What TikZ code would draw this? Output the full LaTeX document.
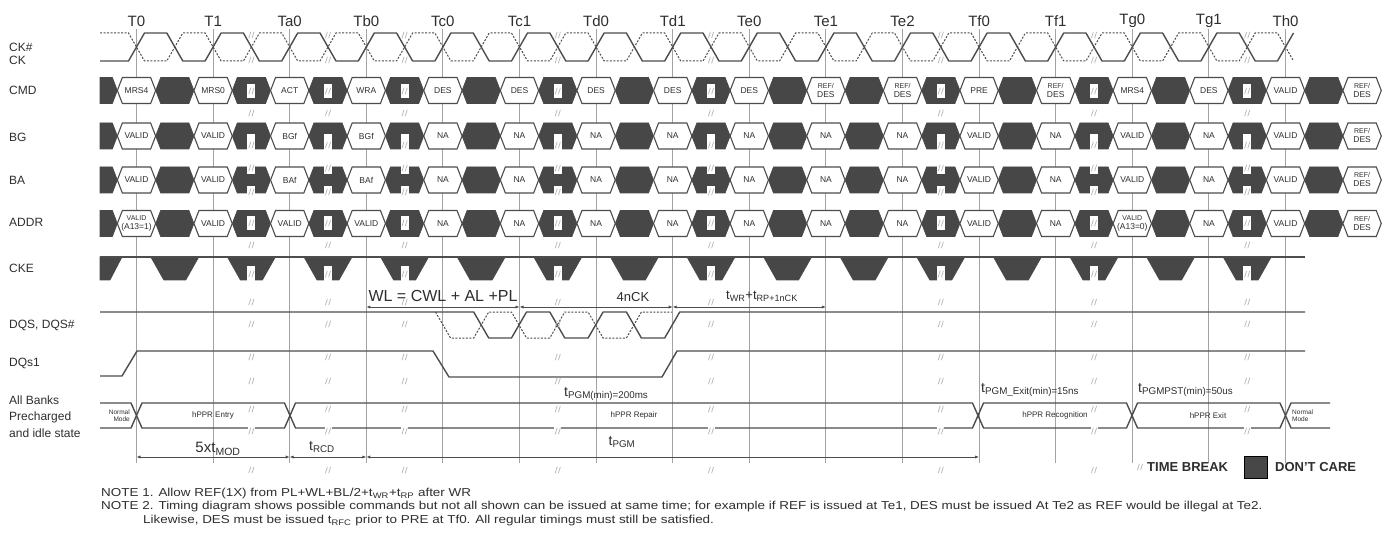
\documentclass[tikz,border=0pt]{standalone}
\usepackage{fontspec}
\setmainfont{Liberation Sans}
\usetikzlibrary{arrows.meta}
\definecolor{dcare}{HTML}{474747}
\definecolor{wline}{HTML}{4D4D4D}
\definecolor{vgrid}{HTML}{A3A3A3}
\definecolor{brkc}{HTML}{B4B4B4}
\definecolor{txt}{HTML}{2E2E2E}
\newcommand\brkmark[2]{\draw[brkc,line width=0.7pt] ({#1-2.6},{#2+3.2}) -- ({#1-0.6},{#2-3.2}) ({#1+0.6},{#2+3.2}) -- ({#1+2.6},{#2-3.2});}
\newcommand\brkmarkw[2]{\fill[white] ({#1-3.5},{#2-4.5}) rectangle ({#1+3.5},{#2+4.5});\brkmark{#1}{#2}}
\newcommand\wcell[3]{\draw[wline,line width=1.1pt,fill=white] ({#1-19.15},#2) -- ({#1-14.15},{#2-13}) -- ({#1+14.15},{#2-13}) -- ({#1+19.15},#2) -- ({#1+14.15},{#2+13}) -- ({#1-14.15},{#2+13}) -- cycle; \node[celltext] at (#1,#2) {#3};}
\newcommand\dcell[2]{\filldraw[dcare,line width=0.6pt] ({#1-19.15},#2) -- ({#1-14.15},{#2-13}) -- ({#1+14.15},{#2-13}) -- ({#1+19.15},#2) -- ({#1+14.15},{#2+13}) -- ({#1-14.15},{#2+13}) -- cycle;}
\newcommand\dstart[1]{\filldraw[dcare,line width=0.6pt] (100,{#1-13}) -- (112.4,{#1-13}) -- (117.35,#1) -- (112.4,{#1+13}) -- (100,{#1+13}) -- cycle;}
\newcommand\rdes{\fontsize{7}{7.5}\selectfont REF/\\DES}
\newcommand\vaone{\fontsize{7}{7.5}\selectfont VALID\\(A13=1)}
\newcommand\vazero{\fontsize{7}{7.5}\selectfont VALID\\(A13=0)}
\newcommand\notewide[1]{\scalebox{1.17}[1]{#1}}
\tikzset{
  celltext/.style={font=\fontsize{8.5}{9}\selectfont, text=txt, inner sep=0pt, align=center},
  rowlabel/.style={font=\fontsize{12}{12}\selectfont, text=txt, anchor=west, inner sep=0pt},
  tlabel/.style={font=\fontsize{15}{15}\selectfont, text=txt, inner sep=0pt},
  sig/.style={wline, line width=1.4pt, line join=round},
  sigdash/.style={wline, line width=1pt, dash pattern=on 2pt off 1.5pt},
  dimline/.style={wline, line width=1pt, {Latex[length=4pt,width=3.2pt]}-{Latex[length=4pt,width=3.2pt]}},
  dimtext/.style={text=txt, inner sep=0pt},
  notetext/.style={text=txt, inner sep=0pt, anchor=west, font=\fontsize{11.5}{11.5}\selectfont},
  smalltext/.style={font=\fontsize{8}{8.5}\selectfont, text=txt, inner sep=0pt, align=center}
}
\begin{document}
\begin{tikzpicture}[x=1pt,y=-1pt]
\useasboundingbox (0,0) rectangle (1393,540);
\fill[white] (0,0) rectangle (1393,540);
% grid lines and T labels
\foreach \i/\lab in {0/T0,1/T1,2/Ta0,3/Tb0,4/Tc0,5/Tc1,6/Td0,7/Td1,8/Te0,9/Te1,10/Te2,11/Tf0,12/Tf1,13/Tg0,14/Tg1,15/Th0}{
  \pgfmathsetmacro\cx{136.5+76.6*\i}
  \draw[vgrid,line width=1pt] (\cx,29) -- (\cx,463);
  \node[tlabel] (t\i) at (\cx,21) {\lab};
}
% row labels
\node[rowlabel] (lckn) at (9,47) {CK\#};
\node[rowlabel] (lck) at (9,60) {CK};
\node[rowlabel] (lcmd) at (9,90) {CMD};
\node[rowlabel] (lbg) at (9,137) {BG};
\node[rowlabel] (lba) at (9,180) {BA};
\node[rowlabel] (laddr) at (9,222) {ADDR};
\node[rowlabel] (lcke) at (9,268) {CKE};
\node[rowlabel] (ldqs) at (9,325) {DQS, DQS\#};
\node[rowlabel] (ldq) at (9,363) {DQs1};
\node[rowlabel] (lab1) at (9,400) {All Banks};
\node[rowlabel] (lab2) at (9,417) {Precharged};
\node[rowlabel] (lab3) at (9,433) {and idle state};
% clock
\draw[sig] (100,61) \foreach \i in {0,...,14}{ -- ({136.5+76.6*\i-8},61) -- ({136.5+76.6*\i+8},33) -- ({136.5+76.6*\i+38.3-8},33) -- ({136.5+76.6*\i+38.3+8},61)} -- (1277.5,61) -- (1293.5,33);
\draw[sigdash] (100,33) \foreach \i in {0,...,14}{ -- ({136.5+76.6*\i-8},33) -- ({136.5+76.6*\i+8},61) -- ({136.5+76.6*\i+38.3-8},61) -- ({136.5+76.6*\i+38.3+8},33)} -- (1277.5,33) -- (1293.5,61);
% bus rows: dark cells
\foreach \y in {90.5,136,180,223.5}{
  \dstart{\y}
  \foreach \j in {0,...,15}{
    \pgfmathsetmacro\mx{136.5+76.6*\j+38.3}
    \dcell{\mx}{\y}
  }
}
% CMD
\foreach \i/\t in {0/MRS4,1/MRS0,2/ACT,3/WRA,4/DES,5/DES,6/DES,7/DES,8/DES,9/\rdes,10/\rdes,11/PRE,12/\rdes,13/MRS4,14/DES,15/VALID,16/\rdes}{
  \pgfmathsetmacro\cx{136.5+76.6*\i}
  \wcell{\cx}{90.5}{\t}
}
% BG
\foreach \i/\t in {0/VALID,1/VALID,2/BGf,3/BGf,4/NA,5/NA,6/NA,7/NA,8/NA,9/NA,10/NA,11/VALID,12/NA,13/VALID,14/NA,15/VALID,16/\rdes}{
  \pgfmathsetmacro\cx{136.5+76.6*\i}
  \wcell{\cx}{136}{\t}
}
% BA
\foreach \i/\t in {0/VALID,1/VALID,2/BAf,3/BAf,4/NA,5/NA,6/NA,7/NA,8/NA,9/NA,10/NA,11/VALID,12/NA,13/VALID,14/NA,15/VALID,16/\rdes}{
  \pgfmathsetmacro\cx{136.5+76.6*\i}
  \wcell{\cx}{180}{\t}
}
% ADDR
\foreach \i/\t in {0/\vaone,1/VALID,2/VALID,3/VALID,4/NA,5/NA,6/NA,7/NA,8/NA,9/NA,10/NA,11/VALID,12/NA,13/\vazero,14/NA,15/VALID,16/\rdes}{
  \pgfmathsetmacro\cx{136.5+76.6*\i}
  \wcell{\cx}{223.5}{\t}
}
% CKE
\filldraw[dcare,line width=0.6pt] (100,257) -- (122,257) -- (110,280) -- (100,280) -- cycle;
\foreach \j in {0,...,14}{
  \pgfmathsetmacro\mx{136.5+76.6*\j+38.3}
  \filldraw[dcare,line width=0.6pt] ({\mx-24},257) -- ({\mx+24},257) -- ({\mx+11},280) -- ({\mx-11},280) -- cycle;
}
\draw[sig] (100,257) -- (1305,257);
% DQS
\draw[sigdash] (435.5,312) -- (450.5,338) -- (473.7,338) -- (488.7,312) -- (511.5,312) -- (526.5,338) -- (549.8,338) -- (564.8,312) -- (588.1,312) -- (603.1,338) -- (626.4,338) -- (641.4,312) -- (672,312);
\draw[sig] (100,312) -- (473.7,312) -- (488.7,338) -- (511.5,338) -- (526.5,312) -- (549.8,312) -- (564.8,338) -- (588.1,338) -- (603.1,312) -- (626.4,312) -- (641.4,338) -- (664.7,338) -- (679.7,312) -- (1305,312);
% DQs1
\draw[sig] (100,376) -- (122,376) -- (137,351) -- (433,351) -- (449,377) -- (662,377) -- (677,351) -- (1305,351);
% hPPR state row
\draw[sig] (100,403) -- (131,403) -- (142,428) -- (284.5,428) -- (295.5,403) -- (972.5,403) -- (983.5,428) -- (1126.5,428) -- (1137.5,403) -- (1280,403) -- (1291,428) -- (1330,428);
\draw[sig] (100,428) -- (131,428) -- (142,403) -- (284.5,403) -- (295.5,428) -- (972.5,428) -- (983.5,403) -- (1126.5,403) -- (1137.5,428) -- (1280,428) -- (1291,403) -- (1330,403);
\node[smalltext,font=\fontsize{6.5}{7.5}\selectfont,align=right,anchor=east] (nm1) at (130,415.5) {Normal\\Mode};
\node[smalltext] (hent) at (213,415.5) {hPPR Entry};
\node[smalltext] (hrep) at (634,415.5) {hPPR Repair};
\node[smalltext] (hrec) at (1055,415.5) {hPPR Recognition};
\node[smalltext] (hexit) at (1208,415.5) {hPPR Exit};
\node[smalltext,font=\fontsize{6.5}{7.5}\selectfont,align=left,anchor=west] (nm2) at (1292,415.5) {Normal\\Mode};
\node[dimtext,anchor=west,font=\fontsize{14}{14}\selectfont] (tpgmmin) at (564,394) {t\textsubscript{PGM(min)=200ms}};
\node[dimtext,anchor=west,font=\fontsize{14}{14}\selectfont] (tpgmexit) at (981,390) {t\textsubscript{PGM\_Exit(min)=15ns}};
\node[dimtext,anchor=west,font=\fontsize{14}{14}\selectfont] (tpgmpst) at (1138,390) {t\textsubscript{PGMPST(min)=50us}};
% break marks
\foreach \b in {1,2,3,5,7,10,12,14}{
  \pgfmathsetmacro\bx{136.5+76.6*\b+38.3}
  \brkmarkw{\bx}{35}
  \brkmarkw{\bx}{60}
  % CMD box
  \fill[white] ({\bx-4},84) rectangle ({\bx+4},98);
  \brkmark{\bx}{91}
  \brkmark{\bx}{113}
  % BG notch
  \fill[white] ({\bx-4},134) rectangle ({\bx+4},150);
  \brkmark{\bx}{145}
  % BA notches
  \fill[white] ({\bx-4},166) rectangle ({\bx+4},174);
  \fill[white] ({\bx-4},186) rectangle ({\bx+4},194);
  \brkmark{\bx}{168}
  \brkmark{\bx}{192}
  % ADDR box
  \fill[white] ({\bx-4},216) rectangle ({\bx+4},230);
  \brkmark{\bx}{223}
  \brkmark{\bx}{245}
  % CKE box
  \fill[white] ({\bx-4},266) rectangle ({\bx+4},281);
  \brkmark{\bx}{274}
  \brkmark{\bx}{302}
  \brkmark{\bx}{324}
  \brkmark{\bx}{357}
  \brkmark{\bx}{381}
  \brkmark{\bx}{409}
  \brkmarkw{\bx}{431}
  \brkmark{\bx}{470}
}
% DQS dimensions
\coordinate (wla) at (366.3,307);
\coordinate (wlb) at (519.5,307);
\coordinate (wlc) at (672.7,307);
\coordinate (wld) at (825.9,307);
\draw[dimline] (wla) -- (wlb);
\draw[dimline] (wlb) -- (wlc);
\draw[dimline] (wlc) -- (wld);
\node[dimtext,font=\fontsize{16}{16}\selectfont] (wl) at (443,296) {WL = CWL + AL +PL};
\node[dimtext,font=\fontsize{13}{13}\selectfont] (nck) at (633,297) {4nCK};
\node[dimtext,font=\fontsize{13}{13}\selectfont] (twr) at (762,296) {t\textsubscript{WR}+t\textsubscript{RP+1nCK}};
% bottom dimensions
\coordinate (da) at (136.5,457);
\coordinate (db) at (289.7,457);
\coordinate (dc) at (366.3,457);
\coordinate (dd) at (979.1,457);
\draw[dimline] (da) -- (db);
\draw[dimline] (db) -- (dc);
\draw[dimline] (dc) -- (dd);
\node[dimtext,font=\fontsize{15}{15}\selectfont] (tmod) at (218,449) {5xt\textsubscript{MOD}};
\node[dimtext,font=\fontsize{14}{14}\selectfont] (trcd) at (322,447) {t\textsubscript{RCD}};
\node[dimtext,font=\fontsize{14}{14}\selectfont] (tpgm) at (622,442) {t\textsubscript{PGM}};
% legend
\brkmark{1140}{467}
\node[dimtext,anchor=west,font=\bfseries\fontsize{13}{13}\selectfont] (ltb) at (1147,467) {TIME BREAK};
\filldraw[fill=dcare,draw=black,line width=0.8pt] (1244,456) rectangle (1267,478);
\node[dimtext,anchor=west,font=\bfseries\fontsize{13}{13}\selectfont] (ldc) at (1275,467) {DON'T CARE};
% notes
\node[notetext] (n1) at (101,493.5) {\notewide{NOTE 1. Allow REF(1X) from PL+WL+BL/2+t\textsubscript{WR}+t\textsubscript{RP} after WR}};
\node[notetext] (n2) at (101,507) {\notewide{NOTE 2. Timing diagram shows possible commands but not all shown can be issued at same time; for example if REF is issued at Te1, DES must be issued At Te2 as REF would be illegal at Te2.}};
\node[notetext] (n3) at (143,520.5) {\notewide{Likewise, DES must be issued t\textsubscript{RFC} prior to PRE at Tf0. All regular timings must still be satisfied.}};
\end{tikzpicture}
\end{document}
